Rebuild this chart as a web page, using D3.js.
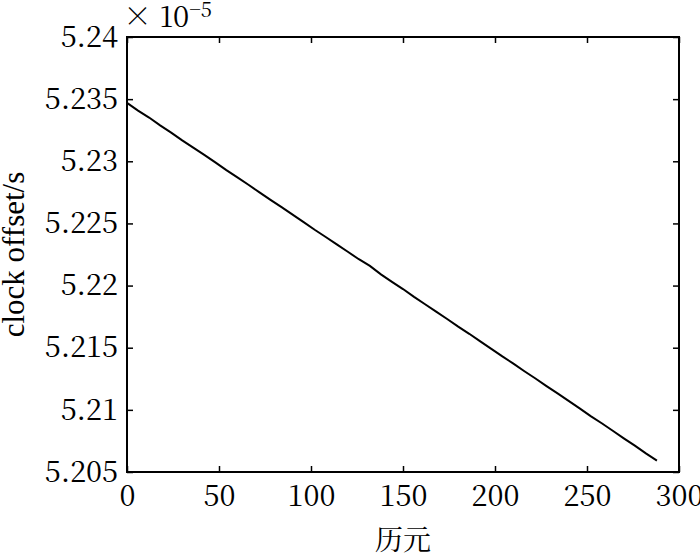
<!DOCTYPE html>
<html>
<head>
  <meta charset="utf-8">
  <title>clock offset</title>
  <style>
    body { margin: 0; background: #fff; }
  </style>
</head>
<body>
  <svg width="700" height="558"></svg>
  <script src="https://d3js.org/d3.v7.min.js"></script>
  <script>
  // epochs and clock offsets (unit 1e-5 s)
  var epochs = [0, 6, 12, 18, 24, 30, 36, 42, 48, 54, 60, 66, 72, 78, 84, 90, 96, 102, 108, 114,
    120, 126, 132, 138, 144, 150, 156, 162, 168, 174, 180, 186, 192, 198, 204, 210, 216, 222,
    228, 234, 240, 246, 252, 258, 264, 270, 276, 282, 288];
  var offsets = [5.23470, 5.23408, 5.23352, 5.23289, 5.23231, 5.23168, 5.23110, 5.23052, 5.22991,
    5.22929, 5.22871, 5.22811, 5.22750, 5.22690, 5.22631, 5.22571, 5.22511, 5.22449, 5.22391,
    5.22331, 5.22272, 5.22212, 5.22158, 5.22090, 5.22030, 5.21972, 5.21909, 5.21850, 5.21791,
    5.21731, 5.21670, 5.21612, 5.21551, 5.21491, 5.21430, 5.21372, 5.21311, 5.21252, 5.21191,
    5.21132, 5.21072, 5.21012, 5.20950, 5.20892, 5.20832, 5.20771, 5.20712, 5.20650, 5.20592];

  var xTicks = [0, 50, 100, 150, 200, 250, 300];
  var yTicks = [5.205, 5.21, 5.215, 5.22, 5.225, 5.23, 5.235, 5.24];

  // digits come out sans in Liberation Serif here, so numbers use Noto Serif CJK
  var numFont = "'Noto Serif CJK SC', 'Liberation Serif', serif";
  var txtFont = "'Liberation Serif', 'Times New Roman', serif";

  var margin = {left: 127, top: 37, right: 21, bottom: 86};
  var width = 700 - margin.left - margin.right;
  var height = 558 - margin.top - margin.bottom;

  var svg = d3.select("svg");
  var g = svg.append("g").attr("transform", "translate(" + margin.left + "," + margin.top + ")");

  var x = d3.scaleLinear().domain([0, 300]).range([0, width]);
  var y = d3.scaleLinear().domain([5.205, 5.24]).range([height, 0]);

  // inward ticks on all four sides
  function styleAxis(sel) {
    sel.attr("font-family", numFont).attr("font-size", 29);
    sel.select(".domain").remove();
    sel.selectAll("line").attr("stroke", "#000").attr("stroke-width", 1.5);
    sel.selectAll("text").attr("fill", "#000");
  }

  g.append("g")
    .attr("transform", "translate(0," + height + ")")
    .call(d3.axisBottom(x).tickValues(xTicks).tickSize(-6).tickPadding(13).tickFormat(d3.format("d")))
    .call(styleAxis);

  g.append("g")
    .call(d3.axisTop(x).tickValues(xTicks).tickSize(-6).tickFormat(""))
    .call(styleAxis);

  g.append("g")
    .call(d3.axisLeft(y).tickValues(yTicks).tickSize(-6).tickPadding(9).tickFormat(function(d) { return d3.format("")(+d.toFixed(3)); }))
    .call(styleAxis);

  g.append("g")
    .attr("transform", "translate(" + width + ",0)")
    .call(d3.axisRight(y).tickValues(yTicks).tickSize(-6).tickFormat(""))
    .call(styleAxis);

  g.append("rect")
    .attr("width", width)
    .attr("height", height)
    .attr("fill", "none")
    .attr("stroke", "#000")
    .attr("stroke-width", 2);

  var line = d3.line()
    .x(function(d, i) { return x(epochs[i]); })
    .y(function(d) { return y(d); });

  g.append("path")
    .datum(offsets)
    .attr("d", line)
    .attr("fill", "none")
    .attr("stroke", "#000")
    .attr("stroke-width", 2);

  // exponent label
  var ex = svg.append("text")
    .attr("x", 123)
    .attr("y", 27)
    .style("font-family", numFont)
    .style("font-size", "29px");
  ex.append("tspan").text("\u00d7 10");
  ex.append("tspan").attr("dy", -10).style("font-size", "20px").text("\u22125");

  // axis labels
  svg.append("text")
    .attr("transform", "translate(24," + (margin.top + height / 2) + ") rotate(-90)")
    .attr("text-anchor", "middle")
    .style("font-family", txtFont)
    .style("font-size", "31px")
    .text("clock offset/s");

  svg.append("text")
    .attr("x", margin.left + width / 2)
    .attr("y", 550)
    .attr("text-anchor", "middle")
    .style("font-family", "'Noto Serif CJK SC', 'Noto Sans CJK SC', serif")
    .style("font-size", "28px")
    .text("历元");
  </script>
</body>
</html>
